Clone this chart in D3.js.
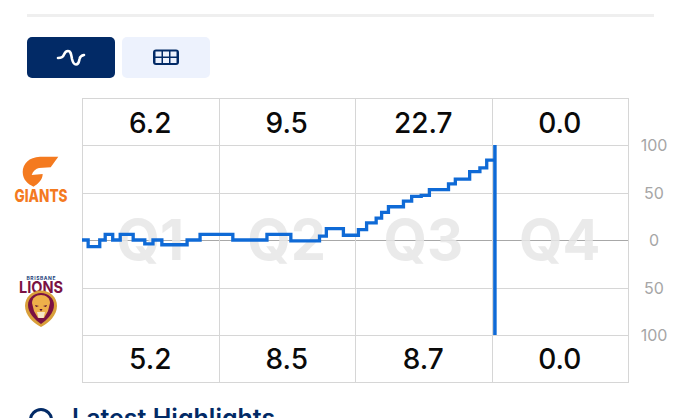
<!DOCTYPE html>
<html><head><meta charset="utf-8">
<script src="https://cdn.jsdelivr.net/npm/d3@7"></script>
<style>html,body{margin:0;padding:0;background:#fff;overflow:hidden}svg{display:block}text{font-family:Inter,"Noto Sans",sans-serif}</style>
</head><body><svg id="c" width="680" height="418"></svg>
<script>
const quarters = ["Q1","Q2","Q3","Q4"];
const homeScores = ["6.2","9.5","22.7","0.0"];
const awayScores = ["5.2","8.5","8.7","0.0"];
const minutes = [0,0.9,2.6,3.4,4.5,5.6,7.5,9.2,10.4,11.7,15.4,17.3,22.1,27.1,30.6,34.8,35.8,38.3,40.5,41.7,43.1,43.9,44.9,47.1,48.3,49.7,50.9,53.7,54.7,56.8,58.3,59.3,60.5];
const margins = [0,-7,0,6,0,6,0,-4,0,-5,0,6,0,6,-1,4,12,5,11,18,23,29,35,41,46,47,53,59,64,72,76,84,84];
const marginTicks = [100,50,0,-50,-100];
const currentMinute = 60.5;
const quarterMinutes = [0,20,40,60,80];

const svg = d3.select("#c");
const L=82,R=628,T=98,B=382;
const x = d3.scaleLinear().domain([0,80]).range([L,R]);
const y = d3.scaleLinear().domain([-100,100]).range([335,145]);
const band = d3.scaleBand().domain(quarters).range([L,R]);
const GRID="#d6d6d6", NAVY="#022a66", ORANGE="#f47a1f", MAROON="#7a1143";

// page furniture
svg.append("rect").attr("x",27).attr("y",14).attr("width",627).attr("height",3).attr("fill","#efefef");
svg.append("rect").attr("x",27).attr("y",37).attr("width",88).attr("height",41).attr("rx",5).attr("fill",NAVY);
svg.append("rect").attr("x",122).attr("y",37).attr("width",88).attr("height",41).attr("rx",5).attr("fill","#edf2fd");
svg.append("path").attr("d","M58 58C62 58 63 57 64 54.500C65 52 66 51 68 51C71 51 71 54 72 59C73 63 74 64.500 76 64.500C79 64.500 79 61 79.500 59C80 56.500 81 55.500 84 55").attr("fill","none").attr("stroke","#fff").attr("stroke-width",2.6).attr("stroke-linecap","round");
svg.append("rect").attr("x",153).attr("y",49.5).attr("width",26).attr("height",15.5).attr("rx",3).attr("fill",NAVY);
const cellX=[155.5,163,170.5], cellY=[51.5,58];
cellX.forEach(cx=>cellY.forEach(cy=>svg.append("rect").attr("x",cx).attr("y",cy).attr("width",6).attr("height",5).attr("fill","#edf2fd")));

// grid via axes
svg.append("g").attr("transform",`translate(${L},0)`)
  .call(d3.axisRight(y).tickValues(marginTicks).tickSize(R-L).tickFormat(""))
  .call(g=>g.select(".domain").remove())
  .call(g=>g.selectAll("line").attr("stroke",d=>d===0?"#a8a8a8":GRID).attr("shape-rendering","crispEdges"));
svg.append("g").attr("transform",`translate(0,${T})`)
  .call(d3.axisBottom(x).tickValues(quarterMinutes).tickSize(B-T).tickFormat(""))
  .call(g=>g.select(".domain").remove())
  .call(g=>g.selectAll("line").attr("stroke",GRID).attr("shape-rendering","crispEdges"));
svg.append("path").attr("d",`M${L} ${T+.5}H${R+1}M${L} ${B+.5}H${R+1}`).attr("stroke",GRID).attr("fill","none").attr("shape-rendering","crispEdges");

// watermark labels
svg.selectAll("text.q").data(quarters).join("text").attr("class","q")
  .attr("x",d=>band(d)+band.bandwidth()/2).attr("y",260).attr("text-anchor","middle")
  .attr("font-size",56).attr("font-weight",700).attr("fill","#e6e6e6").attr("fill-opacity",.85).text(d=>d);

// score rows
const row=(data,yy)=>svg.append("g").selectAll("text").data(data).join("text")
  .attr("x",(d,i)=>band(quarters[i])+band.bandwidth()/2).attr("y",yy).attr("text-anchor","middle")
  .attr("font-size",28).attr("font-weight",550).attr("fill","#0a0a0a").text(d=>d);
row(homeScores,132.500);
row(awayScores,368.500);

// right axis labels
svg.append("g").attr("transform","translate(654,0)")
  .call(d3.axisRight(y).tickValues(marginTicks).tickSize(0).tickPadding(0).tickFormat(d=>Math.abs(d)))
  .call(g=>g.select(".domain").remove())
  .call(g=>g.selectAll("text").attr("text-anchor","middle").attr("font-size",16).attr("font-family","Inter,sans-serif").attr("fill","#a6a6a6").attr("dy","0.35em"));

// worm
const line=d3.line().x(d=>x(d[0])).y(d=>y(d[1])).curve(d3.curveStepAfter);
svg.append("path").datum(d3.zip(minutes,margins)).attr("d",line).attr("fill","none")
  .attr("stroke","#0f6ad6").attr("stroke-width",3.3);
svg.append("line").attr("x1",x(currentMinute)).attr("x2",x(currentMinute)).attr("y1",y(100)).attr("y2",y(-100))
  .attr("stroke","#0f6ad6").attr("stroke-width",3.5);

// Giants logo
const gi=svg.append("g");
gi.append("path").attr("d","M58.300 156.700L40 156.700C29 157 22.700 164 22.700 172C22.700 180 28 184 33.500 186.700C38 184 42.500 180 42.700 174L31.700 175C33 171 36 168.500 39 168L50.700 167.300Z").attr("fill",ORANGE);
gi.append("text").attr("x",41).attr("y",202).attr("text-anchor","middle").attr("font-size",18).attr("font-weight",800).attr("textLength",53).attr("lengthAdjust","spacingAndGlyphs").attr("fill",ORANGE).text("GIANTS");

// Lions logo
const li=svg.append("g");
li.append("text").attr("x",41).attr("y",280).attr("text-anchor","middle").attr("font-size",5).attr("font-weight",700).attr("fill","#1c3f7c").attr("textLength",29).text("BRISBANE");
li.append("text").attr("x",41).attr("y",292.500).attr("text-anchor","middle").attr("font-family","Liberation Serif,serif").attr("font-size",16).attr("font-weight",700).attr("fill",MAROON).attr("textLength",44).attr("lengthAdjust","spacingAndGlyphs").text("LIONS");
li.append("path").attr("d","M41 290.500C50 290.500 57 297 57 306C57 315 49 323 41 327C33 323 25 315 25 306C25 297 32 290.500 41 290.500Z").attr("fill","#d9a03a");
li.append("path").attr("d","M41 293C48 293 54 298 54 305C54 313 47 320 41 324C35 320 28 313 28 305C28 298 34 293 41 293Z").attr("fill",MAROON);
li.append("path").attr("d","M41 295C46 295 50 298 50 303L48 311L44 318H38L34 311L32 303C32 298 36 295 41 295Z").attr("fill","#eeb04a");
li.append("path").attr("d","M35 305l4 1l-3 1zM47 305l-4 1l3 1z").attr("fill","#5a1030");
li.append("path").attr("d","M37 312H45L43.500 318H38.500Z").attr("fill","#f7e6c6");
li.append("path").attr("d","M39.500 309H42.500L41 311.500Z").attr("fill","#5a1030");

// clipped heading
svg.append("circle").attr("cx",41).attr("cy",420).attr("r",10.500).attr("fill","none").attr("stroke",NAVY).attr("stroke-width",3);
svg.append("text").attr("x",72).attr("y",427).attr("font-size",25).attr("font-weight",600).attr("fill",NAVY).text("Latest Highlights");
</script></body></html>
